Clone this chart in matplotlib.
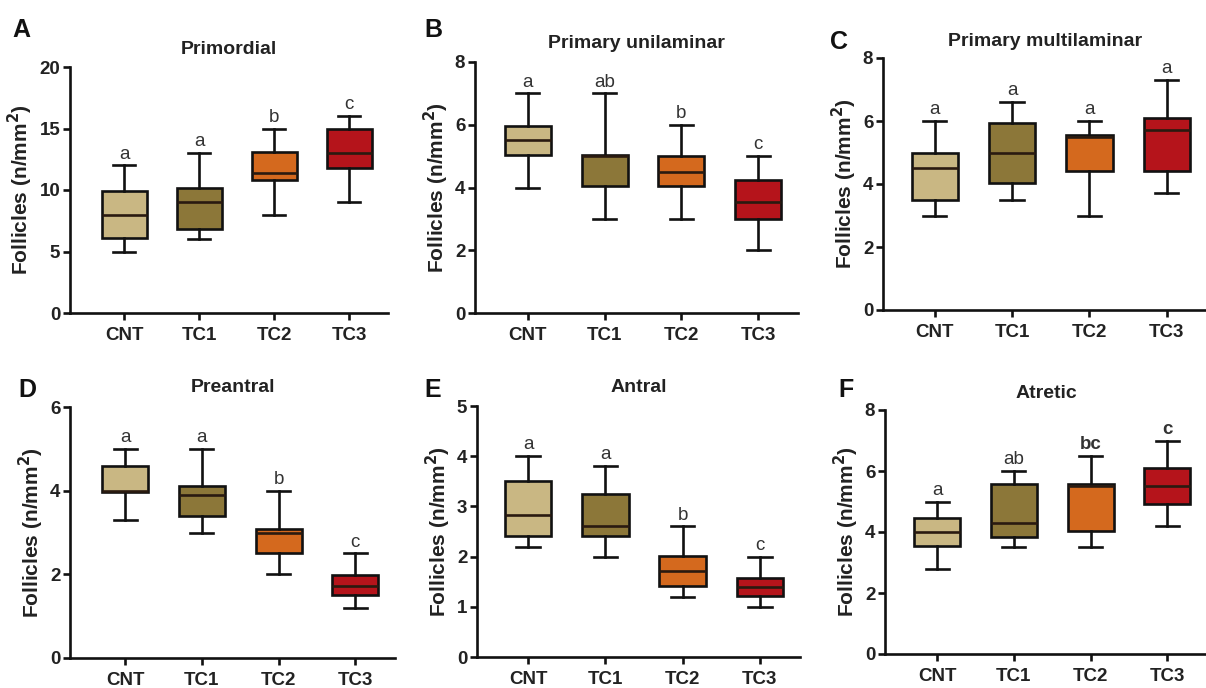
import matplotlib
matplotlib.use("Agg")
import matplotlib.pyplot as plt

plt.rcParams['font.family'] = ['Liberation Sans', 'DejaVu Sans']

groups = ["CNT", "TC1", "TC2", "TC3"]
colors = ["#C9B783", "#8C7739", "#D4691E", "#B5141B"]

titles = ["Primordial", "Primary unilaminar", "Primary multilaminar",
          "Preantral", "Antral", "Atretic"]
panel_letters = ["A", "B", "C", "D", "E", "F"]

# each group: (min, q1, median, q3, max)
primordial = [(5, 6.1, 8.0, 9.9, 12), (6, 6.8, 9.0, 10.2, 13),
              (8, 10.8, 11.4, 13.1, 15), (9, 11.8, 13.0, 15.0, 16)]
unilaminar = [(4, 5.05, 5.5, 5.97, 7), (3, 4.05, 5.0, 5.03, 7),
              (3, 4.05, 4.5, 5.0, 6), (2, 3.0, 3.55, 4.24, 5)]
multilaminar = [(3, 3.5, 4.5, 4.97, 6), (3.5, 4.03, 5.0, 5.95, 6.6),
                (3, 4.4, 5.5, 5.57, 6), (3.7, 4.4, 5.73, 6.1, 7.3)]
preantral = [(3.3, 3.98, 4.0, 4.6, 5), (3.0, 3.4, 3.9, 4.1, 5),
             (2.0, 2.52, 3.0, 3.08, 4), (1.2, 1.5, 1.73, 1.98, 2.5)]
antral = [(2.2, 2.42, 2.82, 3.5, 4.0), (2.0, 2.42, 2.6, 3.24, 3.8),
          (1.2, 1.42, 1.72, 2.02, 2.6), (1.0, 1.22, 1.4, 1.58, 2.0)]
atretic = [(2.8, 3.53, 4.0, 4.45, 5.0), (3.5, 3.85, 4.28, 5.58, 6.0),
           (3.5, 4.04, 5.52, 5.58, 6.5), (4.2, 4.92, 5.5, 6.1, 7.0)]

letters = [["a", "a", "b", "c"], ["a", "ab", "b", "c"], ["a", "a", "a", "a"],
           ["a", "a", "b", "c"], ["a", "a", "b", "c"], ["a", "ab", "bc", "c"]]

yticks = [[0, 5, 10, 15, 20], [0, 2, 4, 6, 8], [0, 2, 4, 6, 8],
          [0, 2, 4, 6], [0, 1, 2, 3, 4, 5], [0, 2, 4, 6, 8]]

datasets = [primordial, unilaminar, multilaminar, preantral, antral, atretic]

W, H = 1206, 688
fig = plt.figure(figsize=(W / 100, H / 100), dpi=100)

# layout in pixels: axis x, y of zero, y of top, spacing, xlim left, letter pos, title y
layout = [
    dict(x0=70, yb=313, yt=67, sp=75.0, xl=0.28, L=(12, 30), ty=50),
    dict(x0=475, yb=313, yt=62, sp=76.7, xl=0.31, L=(424, 30), ty=44),
    dict(x0=883, yb=310, yt=58, sp=77.3, xl=0.33, L=(830, 42), ty=42),
    dict(x0=70, yb=658, yt=407, sp=76.7, xl=0.28, L=(18, 390), ty=388),
    dict(x0=477, yb=657, yt=406, sp=77.3, xl=0.34, L=(424, 390), ty=388),
    dict(x0=885, yb=654, yt=410, sp=76.7, xl=0.32, L=(838, 390), ty=393),
]
xr = 4.52

for i, (data, lay) in enumerate(zip(datasets, layout)):
    wpx = lay['sp'] * (xr - lay['xl'])
    ax = fig.add_axes([lay['x0'] / W, (H - lay['yb']) / H, wpx / W,
                       (lay['yb'] - lay['yt']) / H])
    stats = []
    for g, (mn, q1, med, q3, mx) in zip(groups, data):
        stats.append(dict(label=g, whislo=mn, q1=q1, med=med, q3=q3, whishi=mx, fliers=[]))
    bp = ax.bxp(stats, positions=[1, 2, 3, 4], widths=0.6, patch_artist=True,
                showfliers=False,
                boxprops=dict(linewidth=1.9, edgecolor='#111111'),
                medianprops=dict(color='#2a1a10', linewidth=1.9),
                whiskerprops=dict(color='#111111', linewidth=1.9),
                capprops=dict(color='#111111', linewidth=1.9))
    for patch, c in zip(bp['boxes'], colors):
        patch.set_facecolor(c)
    ymax = yticks[i][-1]
    ax.set_ylim(0, ymax)
    ax.set_xlim(lay['xl'], xr)
    ax.set_yticks(yticks[i])
    ax.set_xticks([1, 2, 3, 4])
    ax.set_xticklabels(groups, fontsize=13.5, fontweight='bold', color='#222222')
    for lab in ax.get_yticklabels():
        lab.set_fontsize(13.5)
        lab.set_fontweight('bold')
        lab.set_color('#222222')
    ax.spines['top'].set_visible(False)
    ax.spines['right'].set_visible(False)
    for s in ('left', 'bottom'):
        ax.spines[s].set_linewidth(1.9)
        ax.spines[s].set_color('#111111')
    ax.tick_params(axis='both', width=1.9, length=5, color='#111111', pad=2)
    ax.tick_params(axis='x', pad=5)
    ax.set_ylabel("Follicles (n/mm$^\\mathbf{2}$)", fontsize=15, fontweight='bold',
                  color='#222222', labelpad=3)
    ax.patch.set_alpha(0)
    for k, (lt, d) in enumerate(zip(letters[i], data)):
        bold = (i == 5 and k >= 2)
        ax.annotate(lt, (k + 1, d[4]), xytext=(0, 2), textcoords='offset points',
                    ha='center', va='bottom', fontsize=13.5,
                    fontweight='bold' if bold else 'normal', color='#333333')
    cx = (lay['x0'] + wpx / 2) / W
    fig.text(cx, 1 - lay['ty'] / H, titles[i], ha='center', va='center',
             fontsize=14, fontweight='bold', color='#222222')
    fig.text(lay['L'][0] / W, 1 - lay['L'][1] / H, panel_letters[i], ha='left',
             va='center', fontsize=18, fontweight='bold', color='#111111')

fig.savefig("out.png", dpi=100, facecolor='white')
